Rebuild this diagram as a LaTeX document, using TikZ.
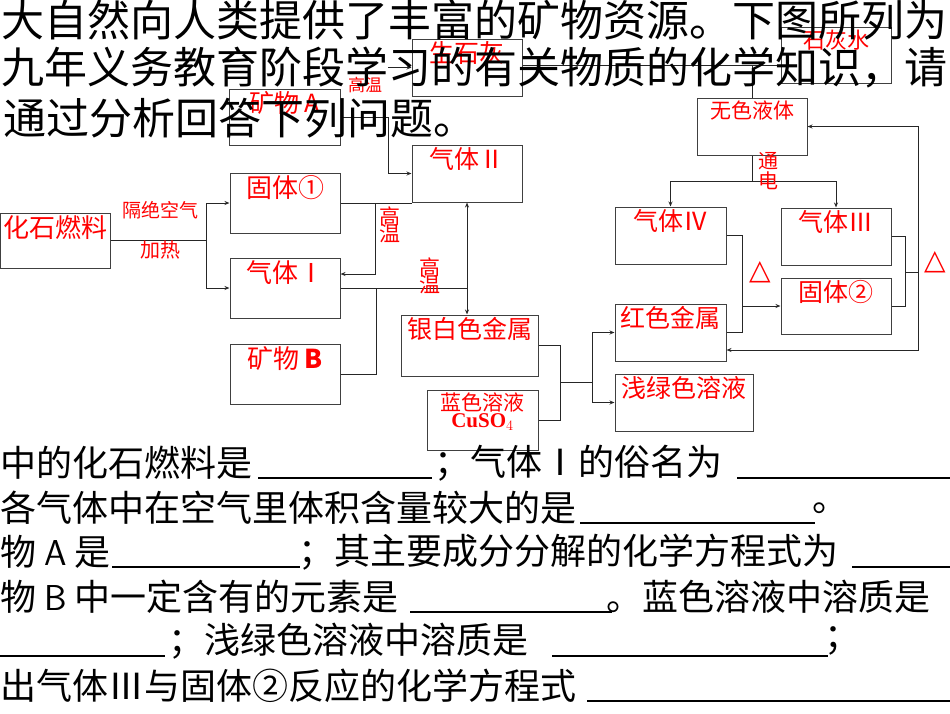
\documentclass[tikz,border=0pt]{standalone}
\usepackage{fontspec}
\setmainfont{Liberation Serif}
\newfontfamily\cjk{Noto Sans CJK SC}
\newfontfamily\dv{DejaVu Sans}
\usetikzlibrary{arrows.meta}
\newcommand\fs[1]{\fontsize{#1}{#1}\selectfont}
\newcommand\bx[7][25]{\node[box,minimum width={(#4-#2)*1pt},minimum height={(#5-#3)*1pt},
  label={[lab,font=\cjk\fs{#1}]north:#7}] (#6) at ({(#2+#4)/2},{(#3+#5)/2}) {};}
\begin{document}
\begin{tikzpicture}[x=1pt,y=-1pt,
  box/.style={draw=black!75,line width=1pt,inner sep=0pt},
  lab/.style={text=red,anchor=north,inner sep=3pt,align=center},
  ln/.style={line width=1pt,black!85},
  arr/.style={ln,-{Stealth[length=5pt,width=4pt,open]}},
  rl/.style={text=red,inner sep=0pt,align=center},
  tt/.style={anchor=west,inner sep=0pt,font=\cjk\fs{43}},
  bt/.style={anchor=west,inner sep=0pt,font=\cjk\fs{36}},
  ul/.style={line width=1.3pt}]
\useasboundingbox (0,0) rectangle (950,713);
% boxes
\bx[26]{0}{213}{110}{268}{fossil}{化石燃料}
\bx[26]{230}{173}{340}{233}{g1}{固体①}
\bx[26]{230}{258}{340}{318}{gasI}{气体Ⅰ}
\bx[26]{230}{344}{340}{404}{minB}{矿物 \textbf{B}}
\bx{229}{89}{340}{145}{minA}{矿物 A}
\bx{412}{39}{522}{96}{lime}{生石灰}
\bx{412}{145}{522}{202}{gas2}{气体Ⅱ}
\bx{401}{315}{538}{376}{silver}{银白色金属}
\bx[21]{427}{390}{538}{450}{blue}{蓝色溶液\\[-4pt]\textbf{\rmfamily CuSO$_{4}$}}
\bx[22]{781}{27}{891}{83}{stone}{石灰水}
\bx[21]{697}{98}{807}{155}{nocolor}{无色液体}
\bx{615}{207}{726}{264}{g4}{气体Ⅳ}
\bx{781}{208}{891}{265}{g3}{气体Ⅲ}
\bx{781}{278}{891}{334}{s2}{固体②}
\bx{615}{304}{726}{361}{redm}{红色金属}
\bx{615}{374}{753}{431}{green}{浅绿色溶液}
% connectors
\draw[ln] (fossil.east) -- (206,240.5) coordinate (j1);
\draw[arr] (206,203) |- (g1.west);
\draw[arr] (206,203) |- (gasI.west);
\draw[ln] (minA.east) -- (388,117) coordinate (j2);
\draw[arr] (388,67) |- (lime.west);
\draw[arr] (j2) |- (gas2.west);
\draw[ln] (g1.east) -- (g1.east -| gas2.west);
\draw[arr] (375,203) |- ([yshift=14pt]gasI.east);
\draw[ln] (gasI.east) -- (gas2.south |- gasI.east);
\draw[ln] (minB.east) -| (376,288);
\draw[ln,{Stealth[length=5pt,width=4pt,open]}-{Stealth[length=5pt,width=4pt,open]}] (gas2.south) -- (gas2.south |- silver.north);
\draw[ln] (silver.east) -| (560,382) coordinate (j3);
\draw[ln] (blue.east) -| (j3) -- (592,382);
\draw[arr] (592,382) |- (redm.west);
\draw[arr] (592,382) |- (green.west);
\draw[ln] (g4.east) -| (742,332.5) -- (redm.east);
\draw[arr] (742,306) -- (s2.west);
\draw[ln] (g3.east) -| (905,306) -- (s2.east);
\draw[ln] (905,272) -- (918,272);
\draw[arr] (918,272) |- (nocolor.east);
\draw[arr] (918,272) |- ([yshift=-17.5pt]redm.east);
\draw[ln] (nocolor.south) -- (nocolor.south |- 0,181) coordinate (j4);
\draw[arr] (j4) -| (g4.north);
\draw[arr] (j4) -| (g3.north);
\draw[ln] (lime.east |- 0,65) -- (stone.west |- 0,65);
\draw[ln] (nocolor.north) -- (nocolor.north |- 0,65);
% red labels
\node[rl,font=\cjk\fs{19}] (t1) at (160,210) {隔绝空气};
\node[rl,font=\cjk\fs{20}] (t2) at (160,250) {加热};
\node[rl,font=\cjk\fs{17}] (t3) at (365,85) {高温};
\node[rl,font=\cjk\fs{21},text width=22pt] (t4) at (390,225) {高\\[-4pt]温};
\node[rl,font=\cjk\fs{21},text width=22pt] (t5) at (430,276) {高\\[-4pt]温};
\node[rl,font=\cjk\fs{20},text width=22pt] (t6) at (768,171) {通\\[0pt]电};
\node[rl,font=\dv\fs{28}] (t7) at (760,272) {△};
\node[rl,font=\dv\fs{28}] (t8) at (935,262) {△};
% top text
\node[tt] (h1) at (1,20) {大自然向人类提供了丰富的矿物资源。下图所列为};
\node[tt] (h2) at (1,68) {九年义务教育阶段学习的有关物质的化学知识，请};
\node[tt] (h3) at (3,118) {通过分析回答下列问题。};
% bottom text
\node[bt] (q1) at (0,463) {中的化石燃料是};
\draw[ul] (258,478) -- (432,478);
\node[bt] (q1b) at (434,463) {；气体Ⅰ的俗名为};
\draw[ul] (737,478) -- (950,478);
\node[bt] (q2) at (0,508) {各气体中在空气里体积含量较大的是};
\draw[ul] (580,523) -- (815,523);
\node[bt] (q2b) at (812,508) {。};
\node[bt] (q3) at (0,552) {物 \textsf{A} 是};
\draw[ul] (112,567) -- (300,567);
\node[bt] (q3b) at (298,552) {；其主要成分分解的化学方程式为};
\draw[ul] (852,567) -- (950,567);
\node[bt] (q4) at (0,597) {物 \textsf{B} 中一定含有的元素是};
\draw[ul] (410,612) -- (612,612);
\node[bt] (q4b) at (606,597) {。蓝色溶液中溶质是};
\draw[ul] (0,656) -- (165,656);
\node[bt] (q5) at (168,641) {；浅绿色溶液中溶质是};
\draw[ul] (552,656) -- (828,656);
\node[bt] (q5b) at (824,641) {；};
\node[bt] (q6) at (0,686) {出气体Ⅲ与固体②反应的化学方程式};
\draw[ul] (587,701) -- (950,701);
\end{tikzpicture}
\end{document}
